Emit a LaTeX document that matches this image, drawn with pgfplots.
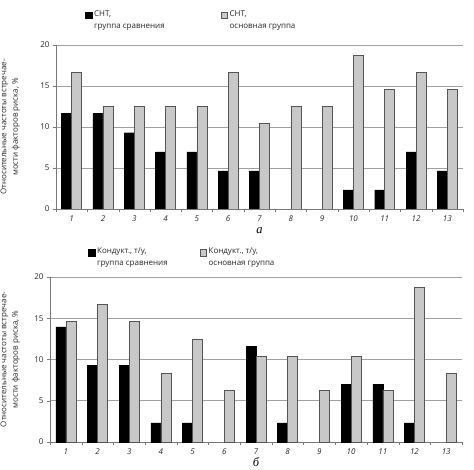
\documentclass[border=0pt]{standalone}
\usepackage{fontspec}
\setmainfont{Open Sans}
\newfontfamily\serifit{Liberation Serif}
\usepackage{pgfplots}
\pgfplotsset{compat=1.18}
\definecolor{barg}{RGB}{200,200,200}
\definecolor{bare}{RGB}{85,85,85}
\definecolor{axc}{RGB}{120,120,120}
\definecolor{gridc}{RGB}{160,160,160}
\pgfplotsset{
  mystyle/.style={
    scale only axis,
    ybar=0pt, bar width=10pt,
    ymin=0, ymax=20, ytick={0,5,10,15,20},
    xmin=0.5, xmax=13.5,
    xtick={1,2,3,4,5,6,7,8,9,10,11,12,13},
    xticklabels={1,2,3,4,5,6,7,8,9,10,11,12,13},
    major x tick style={draw=none},
    minor xtick={0.5,1.5,2.5,3.5,4.5,5.5,6.5,7.5,8.5,9.5,10.5,11.5,12.5,13.5},
    minor x tick style={draw=axc},
    major y tick style={draw=axc},
    tick align=outside,
    major tick length=3pt, minor tick length=3pt,
    axis x line*=bottom, axis y line*=left,
    axis line style={draw=axc},
    ymajorgrids, grid style={draw=gridc, line width=0.6pt},
    /pgf/number format/assume math mode=true,
    tick label style={font=\fontsize{8}{9}\selectfont, text=black!85},
    xticklabel style={font=\fontsize{8}{9}\selectfont\itshape},
    ylabel style={align=center, font=\fontsize{8}{11.5}\selectfont, text=black!85},
    xlabel style={font=\fontsize{12.5}{14}\selectfont\serifit\itshape, yshift=1pt},
    legend cell align=left,
    legend columns=2,
  },
  blk/.style={fill=black, draw=black, line width=0.4pt,
    legend image code/.code={\fill[black] (0pt,2pt) rectangle (6.5pt,8.5pt);}},
  gry/.style={fill=barg, draw=bare, line width=0.5pt,
    legend image code/.code={\filldraw[fill=barg,draw=bare,line width=0.4pt] (0pt,2pt) rectangle (6.5pt,8.5pt);}},
}
\begin{document}
\begin{tikzpicture}
\useasboundingbox (0,0) rectangle (474pt,469pt);
% top chart
\begin{axis}[mystyle,
  at={(56pt,260pt)}, width=407pt, height=164pt,
  xlabel={а},
  ylabel={Относительные частоты встречае-\\мости факторов риска, \%},
  ylabel style={at={(axis description cs:-0.08,0.5)}, anchor=south},
  legend style={at={(axis description cs:0.064,1.235)}, anchor=north west,
    draw=none, fill=none, font=\fontsize{8}{12}\selectfont,
    nodes={align=left, text=black!85},
    /tikz/every even column/.append style={column sep=54pt}},
]
\addplot[blk] coordinates {(1,11.63) (2,11.63) (3,9.30) (4,6.98) (5,6.98) (6,4.65) (7,4.65) (10,2.33) (11,2.33) (12,6.98) (13,4.65)};
\addlegendentry{СНТ,\\группа сравнения}
\addplot[gry] coordinates {(1,16.67) (2,12.5) (3,12.5) (4,12.5) (5,12.5) (6,16.67) (7,10.42) (8,12.5) (9,12.5) (10,18.75) (11,14.58) (12,16.67) (13,14.58)};
\addlegendentry{СНТ,\\основная группа}
\end{axis}
% bottom chart
\begin{axis}[mystyle,
  at={(50pt,27pt)}, width=412pt, height=165pt,
  xlabel={б},
  xlabel style={yshift=3pt},
  ylabel={Относительные частоты встречае-\\мости факторов риска, \%},
  ylabel style={at={(axis description cs:-0.065,0.5)}, anchor=south},
  legend style={at={(axis description cs:0.085,1.2)}, anchor=north west,
    draw=none, fill=none, font=\fontsize{8}{12}\selectfont,
    nodes={align=left, text=black!85},
    /tikz/every even column/.append style={column sep=30pt}},
]
\addplot[blk] coordinates {(1,13.95) (2,9.30) (3,9.30) (4,2.33) (5,2.33) (7,11.63) (8,2.33) (10,6.98) (11,6.98) (12,2.33)};
\addlegendentry{Кондукт., т/у,\\группа сравнения}
\addplot[gry] coordinates {(1,14.58) (2,16.67) (3,14.58) (4,8.33) (5,12.5) (6,6.25) (7,10.42) (8,10.42) (9,6.25) (10,10.42) (11,6.25) (12,18.75) (13,8.33)};
\addlegendentry{Кондукт., т/у,\\основная группа}
\end{axis}
\end{tikzpicture}
\end{document}
